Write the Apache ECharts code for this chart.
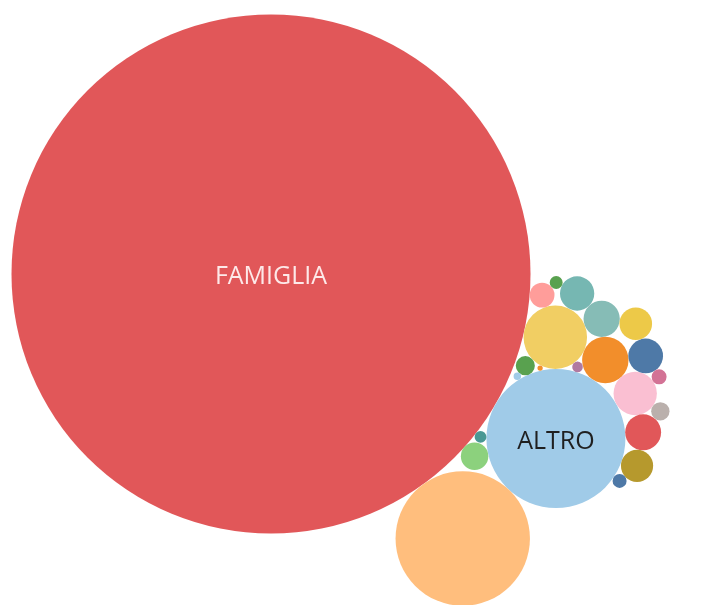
<!DOCTYPE html>
<html>
<head>
<meta charset="utf-8">
<script src="https://cdn.jsdelivr.net/npm/echarts@6/dist/echarts.min.js"></script>
<style>
html,body{margin:0;padding:0;background:#fff;}
#chart{width:726px;height:605px;}
</style>
</head>
<body>
<div id="chart"></div>
<script>
// Categories: only the two largest bubbles carry a readable label in the reference
const categories = ['FAMIGLIA','ALTRO','Cat. 3','Cat. 4','Cat. 5','Cat. 6','Cat. 7','Cat. 8','Cat. 9','Cat. 10','Cat. 11','Cat. 12','Cat. 13','Cat. 14','Cat. 15','Cat. 16','Cat. 17','Cat. 18','Cat. 19','Cat. 20','Cat. 21','Cat. 22','Cat. 23'];
const shownLabels = ['FAMIGLIA','ALTRO'];
// Bubble sizes (area proportional to value)
const values = [9620, 690, 645, 144, 77, 67, 47, 46, 43, 42, 38, 37, 27, 22, 13, 12, 8, 7, 6, 5, 4, 2, 1];
const colors = ['#e15759','#a0cbe8','#ffbe7d','#f1ce63','#f28e2b','#fabfd2','#86bcb6','#e15759','#4e79a7','#76b7b2','#edc948','#b6992d','#8cd17d','#ff9d9a','#59a14f','#bab0ac','#d37295','#4e79a7','#59a14f','#499894','#b07aa1','#a0cbe8','#f28e2b'];
const labelColors = {FAMIGLIA: '#fde9e9', ALTRO: '#1f1f1f'};

// ---- packed-bubble layout (computed from the values) ----
const SCALE = 2.6458;                    // radius units per sqrt(value)
const THETA = 30 * Math.PI / 180;        // direction of the second bubble
const PULL_ALONG = -0.4, PULL_ACROSS = 0.5; // gravity point relative to second bubble (in its radii)

function tangentPositions(A, rA, B, rB, r) {
  const da = rA + r, db = rB + r;
  const dx = B[0] - A[0], dy = B[1] - A[1];
  const d = Math.hypot(dx, dy);
  if (d === 0 || d > da + db || d < Math.abs(da - db)) return [];
  const a = (da * da - db * db + d * d) / (2 * d);
  const h = Math.sqrt(Math.max(0, da * da - a * a));
  const ux = dx / d, uy = dy / d;
  const px = A[0] + a * ux, py = A[1] + a * uy;
  return [[px - h * uy, py + h * ux], [px + h * uy, py - h * ux]];
}
function isFree(c, rr, placed, pos, r) {
  for (const q of placed) {
    if (Math.hypot(c[0] - pos[q][0], c[1] - pos[q][1]) < r[q] + rr - 1e-6) return false;
  }
  return true;
}
function packLayout(vals) {
  const order = vals.map((v, i) => i).sort((a, b) => vals[b] - vals[a]);
  const r = vals.map(v => Math.sqrt(v) * SCALE);
  const pos = new Array(vals.length);
  const placed = [];
  const u = [Math.cos(THETA), Math.sin(THETA)], n = [Math.sin(THETA), -Math.cos(THETA)];
  let T = null;
  order.forEach((idx, k) => {
    if (k === 0) {
      pos[idx] = [0, 0];
    } else if (k === 1) {
      const d = r[order[0]] + r[idx];
      pos[idx] = [d * u[0], d * u[1]];
      const ra = r[idx];
      T = [pos[idx][0] + ra * (PULL_ALONG * u[0] + PULL_ACROSS * n[0]),
           pos[idx][1] + ra * (PULL_ALONG * u[1] + PULL_ACROSS * n[1])];
    } else {
      let best = null, bestCost = Infinity;
      for (let a = 0; a < placed.length; a++) {
        for (let b = a + 1; b < placed.length; b++) {
          const A = placed[a], B = placed[b];
          for (const c of tangentPositions(pos[A], r[A], pos[B], r[B], r[idx])) {
            if (!isFree(c, r[idx], placed, pos, r)) continue;
            let cost = Math.hypot(c[0] - T[0], c[1] - T[1]);
            if (k === 2) cost = (c[0] * n[0] + c[1] * n[1]) + 1e-3 * cost;
            if (cost < bestCost) { bestCost = cost; best = c; }
          }
        }
      }
      pos[idx] = best;
    }
    placed.push(idx);
  });
  return {pos, r};
}

const layout = packLayout(values);
const seriesData = categories.map((name, i) => ({
  name: name,
  value: [layout.pos[i][0], layout.pos[i][1], layout.r[i], values[i]]
}));

const chart = echarts.init(document.getElementById('chart'), null, {renderer: 'canvas'});
chart.setOption({
  animation: false,
  backgroundColor: '#ffffff',
  grid: {left: 0, right: 0, top: 0, bottom: 0},
  xAxis: {type: 'value', min: -271, max: 455, show: false},
  yAxis: {type: 'value', min: -274, max: 331, inverse: true, show: false},
  series: [{
    type: 'custom',
    coordinateSystem: 'cartesian2d',
    data: seriesData,
    clip: true,
    renderItem: function (params, api) {
      const i = params.dataIndex;
      const c = api.coord([api.value(0), api.value(1)]);
      const rad = api.size([api.value(2), api.value(2)])[0];
      const children = [{
        type: 'circle',
        shape: {cx: c[0], cy: c[1], r: rad},
        style: {fill: colors[i]}
      }];
      const name = categories[i];
      if (shownLabels.indexOf(name) >= 0) {
        children.push({
          type: 'text',
          style: {
            x: c[0], y: c[1] + 3, text: name,
            fill: labelColors[name],
            font: '25px "Open Sans", sans-serif',
            align: 'center', verticalAlign: 'middle'
          }
        });
      }
      return {type: 'group', children: children};
    }
  }]
});
</script>
</body>
</html>
